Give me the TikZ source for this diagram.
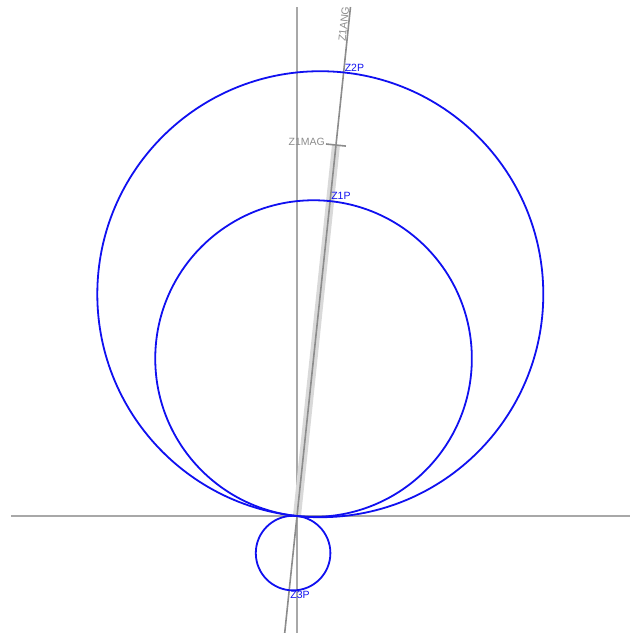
\documentclass[tikz,border=0pt]{standalone}
\usepackage{fontspec}
\setmainfont{Liberation Sans}
\usetikzlibrary{arrows.meta,positioning,calc}

\definecolor{axisgray}{HTML}{A8A8A8}
\definecolor{anggray}{HTML}{8C8C8C}
\definecolor{bandgray}{HTML}{D9D9D9}
\definecolor{locus}{HTML}{1010F0}

\tikzset{
  axis/.style={draw=axisgray,line width=2.2pt},
  angline/.style={draw=anggray,line width=1.6pt},
  band/.style={draw=bandgray,line width=8pt},
  locuscircle/.style={draw=locus,line width=1.8pt},
  plabel/.style={text=locus,font=\fontsize{10.5}{12}\selectfont,inner sep=1pt},
  glabel/.style={text=anggray,font=\fontsize{10.5}{12}\selectfont,inner sep=1pt}
}

\begin{document}
\begin{tikzpicture}[x=1pt,y=1pt,>=Latex]
\useasboundingbox (-297,-117) rectangle (333,516);
\coordinate (O) at (0,0);
% axes
\coordinate (xl) at (-286,0);
\coordinate (xr) at (333,0);
\coordinate (yb) at (0,-117);
\coordinate (yt) at (0,509);
\draw[axis] (xl) -- (xr);
\draw[axis] (yb) -- (yt);

% magnitude bar of Z1
\coordinate (mag) at (84:373pt);
\draw[band] (O) -- (mag);

% angle line of Z1
\coordinate (ab) at (264:117.6pt);
\coordinate (at) at (84:511.8pt);
\draw[angline] (ab) -- (at);
\node[glabel,rotate=84,anchor=south] (ang) at (84:494pt) {Z1ANG};

% magnitude tick
\coordinate (tl) at ($(mag)+(174:10pt)$);
\coordinate (tr) at ($(mag)+(-6:10pt)$);
\draw[angline] (tl) -- (tr);
\node[glabel,anchor=east,yshift=2pt] (maglabel) at (tl) {Z1MAG};

% circles through the origin, diameter along Z1ANG
\foreach \d/\n in {446/2,316.6/1,-74.6/3}{
  \draw[locuscircle] (84:\d/2 pt) circle[radius={abs(\d)/2*1pt}];
  \coordinate (p\n) at (84:\d pt);
}
\node[plabel,anchor=south west] (z2p) at (p2) {Z2P};
\node[plabel,anchor=south west] (z1p) at (p1) {Z1P};
\node[plabel,anchor=north west] (z3p) at (p3) {Z3P};
\end{tikzpicture}
\end{document}
